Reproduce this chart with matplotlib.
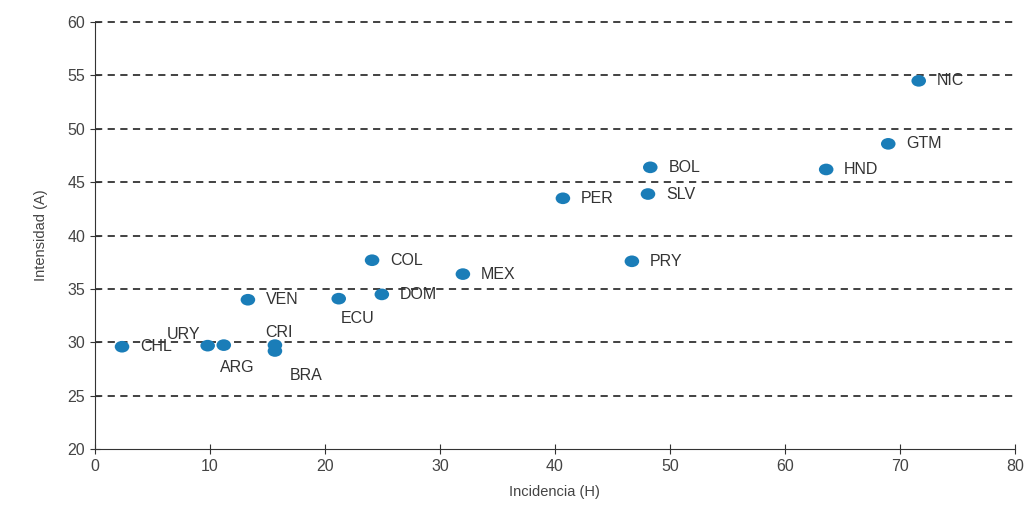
import numpy as np
import matplotlib.pyplot as plt
from matplotlib.path import Path
from matplotlib.transforms import Affine2D

plt.rcParams['font.family'] = ['Liberation Sans', 'DejaVu Sans']

paises = ['CHL', 'URY', 'ARG', 'CRI', 'BRA', 'VEN', 'ECU', 'DOM', 'COL', 'MEX',
          'PER', 'PRY', 'SLV', 'BOL', 'HND', 'GTM', 'NIC']
incidencia = [2.35, 9.8, 11.2, 15.65, 15.65, 13.3, 21.2, 24.95, 24.1, 32.0,
              40.7, 46.7, 48.1, 48.3, 63.6, 69.0, 71.65]
intensidad = [29.6, 29.7, 29.75, 29.75, 29.2, 34.0, 34.1, 34.5, 37.7, 36.4,
              43.5, 37.6, 43.9, 46.4, 46.2, 48.6, 54.5]

# desplazamiento de las etiquetas (pixeles)
offsets = {'URY': (-41, 11), 'ARG': (-4, -22), 'CRI': (-10, 13),
           'BRA': (15, -25), 'ECU': (2, -20)}

# marcador eliptico (un poco mas ancho que alto)
elipse = Path.unit_circle().transformed(Affine2D().scale(1.0, 0.8))

fig = plt.figure(figsize=(10.26, 5.14), dpi=100)
ax = fig.add_axes([0.0926, 0.126, 0.8964, 0.831])

for y in range(25, 61, 5):
    ax.axhline(y, color='#333333', linestyle=(0, (4, 3)), linewidth=1.3,
               zorder=1, clip_on=False)

ax.scatter(incidencia, intensidad, s=110, color='#1a7db8', zorder=3,
           marker=elipse, edgecolors='none')

for p, x, y in zip(paises, incidencia, intensidad):
    dx, dy = offsets.get(p, (18, 0))
    ax.annotate(p, (x, y), xytext=(dx, dy), textcoords='offset pixels',
                ha='left', va='center', fontsize=11.5, color='#333333')

ax.set_xlim(0, 80)
ax.set_ylim(20, 60)
ax.set_xticks(range(0, 81, 10))
ax.set_yticks(range(20, 61, 5))
ax.spines['top'].set_visible(False)
ax.spines['right'].set_visible(False)
ax.spines['left'].set_color('#333333')
ax.spines['bottom'].set_color('#333333')
ax.tick_params(direction='inout', length=7, colors='#333333', labelsize=11.5,
               labelcolor='#444444')
ax.set_xlabel('Incidencia (H)', fontsize=10.5, color='#444444', labelpad=8)
ax.set_ylabel('Intensidad (A)', fontsize=10.5, color='#444444', labelpad=14)

plt.savefig('out.png', dpi=100)
